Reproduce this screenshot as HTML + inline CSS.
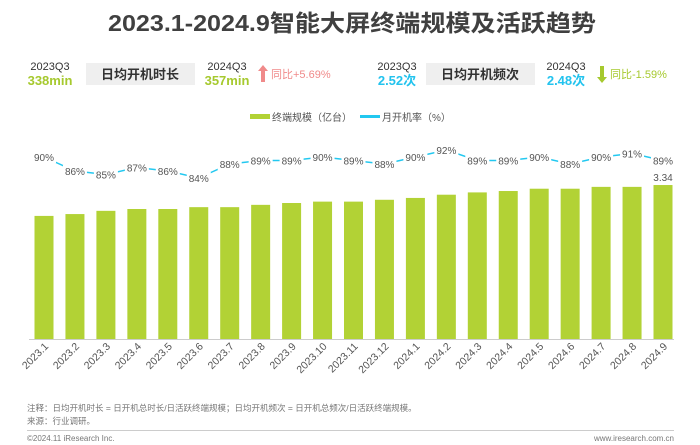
<!DOCTYPE html>
<html><head><meta charset="utf-8"><style>
body{margin:0;background:#fff;}
svg{display:block;font-family:"Liberation Sans","Noto Sans CJK SC",sans-serif;}
</style></head><body>
<svg id="c" width="700" height="445" viewBox="0 0 700 445">
<text x="352" y="31" text-anchor="middle" font-size="23" font-weight="bold" fill="#404040" textLength="488" lengthAdjust="spacingAndGlyphs">2023.1-2024.9智能大屏终端规模及活跃趋势</text>
<g>
<text x="50" y="70" text-anchor="middle" font-size="11" fill="#333">2023Q3</text>
<text x="50" y="85" text-anchor="middle" font-size="13" font-weight="bold" fill="#a6c92e">338min</text>
<rect x="86" y="63" width="109" height="22" fill="#efefef"/>
<text x="140" y="79" text-anchor="middle" font-size="13" font-weight="bold" fill="#333">日均开机时长</text>
<text x="227" y="70" text-anchor="middle" font-size="11" fill="#333">2024Q3</text>
<text x="227" y="85" text-anchor="middle" font-size="13" font-weight="bold" fill="#a6c92e">357min</text>
<path d="M263 65 l-5 6 h3 v11 h4 v-11 h3 z" fill="#f08a8a"/>
<text x="271" y="78" font-size="11" fill="#f08a8a">同比+5.69%</text>
<text x="397" y="70" text-anchor="middle" font-size="11" fill="#333">2023Q3</text>
<text x="397" y="85" text-anchor="middle" font-size="13" font-weight="bold" fill="#22c3ee">2.52次</text>
<rect x="426" y="63" width="109" height="22" fill="#efefef"/>
<text x="480" y="79" text-anchor="middle" font-size="13" font-weight="bold" fill="#333">日均开机频次</text>
<text x="566" y="70" text-anchor="middle" font-size="11" fill="#333">2024Q3</text>
<text x="566" y="85" text-anchor="middle" font-size="13" font-weight="bold" fill="#22c3ee">2.48次</text>
<path d="M602 83 l-5 -6 h3 v-11 h4 v11 h3 z" fill="#a6c92e"/>
<text x="610" y="78" font-size="11" fill="#a6c92e">同比-1.59%</text>
</g>
<g>
<rect x="250" y="114" width="20" height="5" fill="#b2d235"/>
<text x="272" y="121" font-size="10" fill="#555">终端规模（亿台）</text>
<rect x="360" y="115" width="20" height="3" fill="#22c8f0"/>
<text x="382" y="121" font-size="10" fill="#555">月开机率（%）</text>
</g>
<line x1="29" y1="339.5" x2="674" y2="339.5" stroke="#ccc"/>
<g id="plot"></g>
<text x="27" y="411" font-size="8.5" fill="#777">注释：日均开机时长 = 日开机总时长/日活跃终端规模；日均开机频次 = 日开机总频次/日活跃终端规模。</text>
<text x="27" y="424" font-size="8.5" fill="#777">来源：行业调研。</text>
<line x1="27" y1="430.5" x2="674" y2="430.5" stroke="#ccc"/>
<text x="27" y="441" font-size="8" fill="#777">©2024.11 iResearch Inc.</text>
<text x="674" y="441" text-anchor="end" font-size="8" fill="#777">www.iresearch.com.cn</text>
</svg>
<script>
const categories=["2023.1","2023.2","2023.3","2023.4","2023.5","2023.6","2023.7","2023.8","2023.9","2023.10","2023.11","2023.12","2024.1","2024.2","2024.3","2024.4","2024.5","2024.6","2024.7","2024.8","2024.9"];
const scaleValues=[2.67,2.71,2.78,2.82,2.82,2.86,2.86,2.91,2.95,2.98,2.98,3.02,3.06,3.13,3.18,3.21,3.26,3.26,3.30,3.30,3.34];
const rateValues=[90,86,85,87,86,84,88,89,89,90,89,88,90,92,89,89,90,88,90,91,89];
const NS="http://www.w3.org/2000/svg";
const g=document.getElementById('plot');
const xc=i=>44+i*30.95;
const yb=v=>339-v*46.1;
const yr=p=>157-(p-90)*3.5;
function mk(t,a){const e=document.createElementNS(NS,t);for(const k in a)e.setAttribute(k,a[k]);g.appendChild(e);return e;}
scaleValues.forEach((v,i)=>{
 const r=mk('rect',{x:xc(i)-9.5,y:yb(v),width:19,height:339-yb(v),fill:'#b2d235'});
 
 
 const t=mk('text',{x:xc(i)+5,y:347,'font-size':10.5,fill:'#555','text-anchor':'end',transform:`rotate(-45 ${xc(i)+5} 347)`});
 t.textContent=categories[i];
 
 
});
const lt=mk('text',{x:xc(20),y:yb(scaleValues[20])-4,'font-size':10,fill:'#555','text-anchor':'middle'});
lt.textContent=scaleValues[20].toFixed(2);


const pl=mk('polyline',{points:rateValues.map((p,i)=>xc(i)+','+yr(p)).join(' '),fill:'none',stroke:'#22c8f0','stroke-width':1.5});


rateValues.forEach((p,i)=>{
 const bg=mk('rect',{x:xc(i)-12,y:yr(p)-6,width:24,height:12,fill:'#fff'});
 
 
 const t=mk('text',{x:xc(i),y:yr(p)+4,'font-size':10,fill:'#555','text-anchor':'middle'});
 t.textContent=p+'%';
 
 
});
</script>
</body></html>
